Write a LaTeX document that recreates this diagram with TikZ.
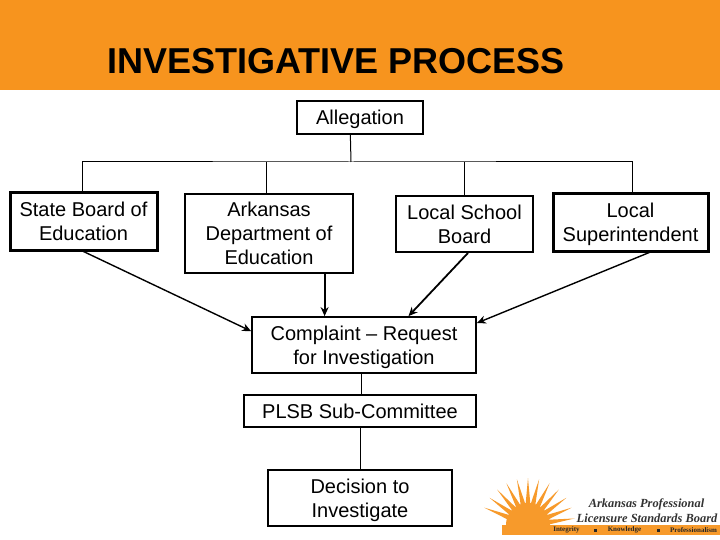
\documentclass[tikz,border=0pt]{standalone}
\usepackage{fontspec}
\setmainfont{Liberation Sans}
\newfontfamily\logofont{Liberation Serif}
\usetikzlibrary{arrows.meta}
\definecolor{bandorange}{HTML}{F7941E}
\definecolor{sunorange}{HTML}{F79A2B}
\newcommand{\nodepth}[1]{\raisebox{0pt}[\height][0pt]{#1}}
\tikzset{
  x=1pt,y=-1pt,
  boxbase/.style={draw=black,fill=white,inner sep=0pt,align=center,font=\fontsize{20}{24}\selectfont},
  plainbox/.style={boxbase,line width=1.8pt},
  heavybox/.style={boxbase,line width=3pt},
  treeline/.style={draw=black,line width=1pt},
  link/.style={draw=black,line width=1.8pt,-{Stealth[length=9pt,width=8pt]}},
  thinlink/.style={draw=black,line width=1.4pt,-{Stealth[length=9pt,width=8pt]}},
  logotext/.style={font=\logofont\bfseries\itshape\fontsize{12.4}{14}\selectfont,text=black!80,inner sep=0pt},
  bandtext/.style={font=\logofont\bfseries\fontsize{7}{8}\selectfont,text=black!85,inner sep=0pt}
}
\begin{document}
\begin{tikzpicture}
\useasboundingbox (0,0) rectangle (720,540);
\fill[white] (0,0) rectangle (720,540);
\fill[bandorange] (0,0) rectangle (720,90.5);
\node[anchor=base west,inner sep=0pt,font=\bfseries\fontsize{36}{38}\selectfont] (title) at (107,74) {INVESTIGATIVE PROCESS};

\node[plainbox,minimum width=126pt,minimum height=33pt] (al) at (360,117.5) {\nodepth{Allegation}};
\node[heavybox,minimum width=147pt,minimum height=57pt] (st) at (83.5,221.5) {State Board of\\\nodepth{Education}};
\node[plainbox,minimum width=168pt,minimum height=79pt] (ar) at (269,233.5) {Arkansas\\Department of\\\nodepth{Education}};
\node[plainbox,minimum width=137pt,minimum height=56pt] (ls) at (464.5,224) {Local School\\\nodepth{Board}};
\node[heavybox,minimum width=155pt,minimum height=57pt] (su) at (630.5,222.5) {Local\\\nodepth{Superintendent}};
\node[plainbox,minimum width=224pt,minimum height=56pt] (co) at (364,345) {Complaint -- Request\\\nodepth{for Investigation}};
\node[plainbox,minimum width=232pt,minimum height=32pt] (pl) at (360,411) {\nodepth{PLSB Sub-Committee}};
\node[plainbox,minimum width=184pt,minimum height=56pt] (dc) at (360,498) {Decision to\\\nodepth{Investigate}};

\coordinate (bus) at (351,162);
\draw[treeline] (al.-119) -- (bus);
\draw[treeline] (st.91) |- (bus) -| (su.87);
\draw[treeline] (ar.94) -- (ar.94 |- bus);
\draw[treeline] (ls.north) -- (ls.north |- bus);
\draw[treeline] (co.-94) -- (co.-94 |- pl.north);
\draw[treeline] (pl.south) -- (dc.north);

\draw[thinlink] (st.south) -- (co.173);
\draw[link] (ar.-36.5) -- (ar.-36.5 |- co.north);
\draw[link] (ls.-83) -- (co.33);
\draw[thinlink] (su.-58) -- (co.11);

% logo
\fill[sunorange] plot[domain=0:180,samples=30] ({528+22*cos(\x)},{525-22*sin(\x)}) -- cycle;
\foreach \a in {8,21.67,...,172}{
  \fill[sunorange] ({528+21*cos(\a-6.5)},{525-21*sin(\a-6.5)}) -- ({528+47*cos(\a)},{525-47*sin(\a)}) -- ({528+21*cos(\a+6.5)},{525-21*sin(\a+6.5)}) -- cycle;
}
\fill[sunorange] (502,534.5) rectangle (720,525);
\node[logotext,anchor=center] (lg1) at (646.5,504.5) {Arkansas Professional};
\node[logotext,anchor=center] (lg2) at (647,518.5) {Licensure Standards Board};
\node[bandtext] (b1) at (566.5,530) {Integrity};
\node[inner sep=0pt,minimum size=3pt,fill=black!85] (b2) at (595,530) {};
\node[bandtext] (b3) at (624.5,530) {Knowledge};
\node[inner sep=0pt,minimum size=3pt,fill=black!85] (b4) at (658,530) {};
\node[bandtext] (b5) at (693.5,530) {Professionalism};
\end{tikzpicture}
\end{document}
